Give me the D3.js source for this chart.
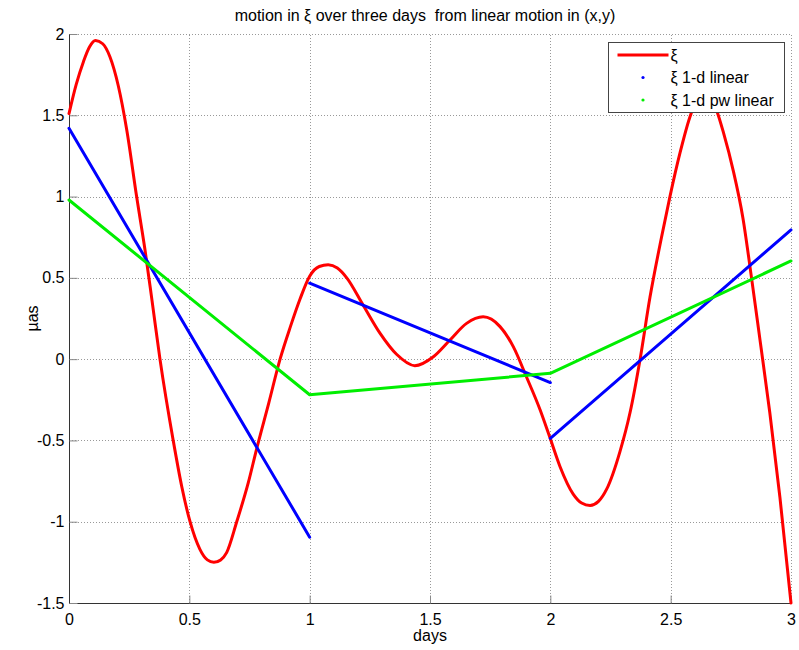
<!DOCTYPE html>
<html>
<head>
<meta charset="utf-8">
<script src="https://cdn.jsdelivr.net/npm/d3@7"></script>
<style>
  body { margin: 0; background: #fff; }
  svg { display: block; font-family: "Liberation Sans", Arial, sans-serif; }
</style>
</head>
<body>
<div id="chart"></div>
<script>
// red curve: xi(t)
const xiDays = [0, 0.03, 0.06, 0.085, 0.11, 0.14, 0.17, 0.205, 0.24, 0.281, 0.316, 0.345, 0.378, 0.433, 0.468, 0.503, 0.544, 0.575, 0.602, 0.63, 0.655, 0.697, 0.745, 0.78, 0.83, 0.877, 0.92, 0.96, 1.0, 1.04, 1.077, 1.115, 1.154, 1.223, 1.292, 1.361, 1.437, 1.514, 1.583, 1.652, 1.721, 1.791, 1.846, 1.901, 1.957, 2.0, 2.04, 2.095, 2.13, 2.165, 2.2, 2.234, 2.289, 2.331, 2.373, 2.414, 2.462, 2.497, 2.539, 2.58, 2.61, 2.64, 2.665, 2.691, 2.72, 2.76, 2.80, 2.836, 2.871, 2.912, 2.954, 3.0];
const xiValues = [1.51, 1.69, 1.83, 1.92, 1.96, 1.94, 1.86, 1.68, 1.41, 1.0, 0.67, 0.36, 0.0, -0.50, -0.78, -1.0, -1.17, -1.235, -1.25, -1.235, -1.19, -1.0, -0.76, -0.55, -0.27, 0.0, 0.2, 0.37, 0.51, 0.57, 0.58, 0.56, 0.5, 0.33, 0.16, 0.03, -0.04, 0.015, 0.118, 0.22, 0.26, 0.20, 0.077, -0.11, -0.31, -0.49, -0.66, -0.83, -0.885, -0.90, -0.875, -0.80, -0.57, -0.33, 0.0, 0.38, 0.75, 1.0, 1.27, 1.49, 1.6, 1.64, 1.61, 1.53, 1.39, 1.16, 0.87, 0.5, 0.12, -0.33, -0.85, -1.5];

// blue: one linear fit per day (segments [start, end])
const linearSegments = [
  [[0, 1.42], [1, -1.095]],
  [[1, 0.467], [2, -0.144]],
  [[2, -0.487], [3, 0.795]]
];

// green: piecewise linear
const pwDays = [0, 1, 2, 3];
const pwValues = [0.979, -0.219, -0.087, 0.604];

const xTicks = [0, 0.5, 1, 1.5, 2, 2.5, 3];
const yTicks = [-1.5, -1, -0.5, 0, 0.5, 1, 1.5, 2];

const legendLabels = ["\u03be", "\u03be 1-d linear", "\u03be 1-d pw linear"];
const colors = {xi: "#ff0000", lin: "#0000ff", pw: "#00ee00"};

const width = 799, height = 650;
const margin = {left: 69, right: 8, top: 34, bottom: 47};

const svg = d3.select("#chart").append("svg")
    .attr("width", width).attr("height", height);

const x = d3.scaleLinear().domain([0, 3]).range([margin.left, width - margin.right]);
const y = d3.scaleLinear().domain([-1.5, 2]).range([height - margin.bottom, margin.top]);

// grid
const grid = svg.append("g").attr("class", "grid")
    .attr("stroke", "#999").attr("stroke-dasharray", "1,2").attr("stroke-width", 1);
grid.selectAll(".gx").data(xTicks.slice(1)).join("line")
    .attr("x1", d => Math.round(x(d)) + 0.5).attr("x2", d => Math.round(x(d)) + 0.5)
    .attr("y1", y(-1.5)).attr("y2", y(2));
grid.selectAll(".gy").data(yTicks.slice(1)).join("line")
    .attr("y1", d => Math.round(y(d)) + 0.5).attr("y2", d => Math.round(y(d)) + 0.5)
    .attr("x1", x(0)).attr("x2", x(3));

// axes
const fmt = d => String(d);
const xAxis = svg.append("g")
    .attr("transform", `translate(0,${y(-1.5) + 0.5})`)
    .call(d3.axisBottom(x).tickValues(xTicks).tickSize(-8).tickPadding(10).tickFormat(fmt));
const yAxis = svg.append("g")
    .attr("transform", `translate(${x(0) + 0.5},0)`)
    .call(d3.axisLeft(y).tickValues(yTicks).tickSize(-8).tickPadding(5).tickFormat(fmt));

[xAxis, yAxis].forEach(a => {
  a.attr("font-size", 16).attr("font-family", "Liberation Sans, Arial, sans-serif");
  a.select(".domain").attr("stroke", "#333");
  a.selectAll(".tick line").attr("stroke", "#888");
  a.selectAll(".tick text").attr("fill", "#000");
});
xAxis.select(".domain").attr("d", `M${x(0)},0H${x(3)}`);
yAxis.select(".domain").attr("d", `M0,${y(-1.5)}V${y(2)}`);

// data lines
const plot = svg.append("g").attr("fill", "none").attr("stroke-width", 3)
    .attr("stroke-linejoin", "round").attr("stroke-linecap", "round");

const xiData = xiDays.map((d, i) => [d, xiValues[i]]);
const pwData = pwDays.map((d, i) => [d, pwValues[i]]);

const smooth = d3.line().x(d => x(d[0])).y(d => y(d[1])).curve(d3.curveMonotoneX);
const straight = d3.line().x(d => x(d[0])).y(d => y(d[1]));

plot.append("path").attr("d", smooth(xiData)).attr("stroke", colors.xi);
plot.selectAll(".lin").data(linearSegments).join("path")
    .attr("d", straight).attr("stroke", colors.lin);
plot.append("path").attr("d", straight(pwData)).attr("stroke", colors.pw);

// title and labels
svg.append("text").attr("x", x(1.5) - 5).attr("y", 21).attr("text-anchor", "middle")
    .attr("font-size", 16).text("motion in \u03be over three days  from linear motion in (x,y)")
    .style("white-space", "pre");
svg.append("text").attr("x", x(1.5)).attr("y", 641).attr("text-anchor", "middle")
    .attr("font-size", 16).text("days");
svg.append("text").attr("transform", `translate(38,${y(0.25)}) rotate(-90)`)
    .attr("text-anchor", "middle").attr("font-size", 16).text("\u00b5as");

// legend
const leg = svg.append("g").attr("transform", "translate(608.5,42.5)");
leg.append("rect").attr("width", 176).attr("height", 70)
    .attr("fill", "#fff").attr("stroke", "#444").attr("stroke-width", 1);
const rows = leg.selectAll(".row").data(legendLabels).join("g")
    .attr("transform", (d, i) => `translate(0,${12.5 + i * 22.5})`);
rows.filter((d, i) => i === 0).append("line")
    .attr("x1", 9).attr("x2", 60).attr("stroke", colors.xi).attr("stroke-width", 3);
rows.filter((d, i) => i > 0).append("circle")
    .attr("cx", 34.5).attr("r", 1.6)
    .attr("fill", (d, i) => i === 0 ? colors.lin : colors.pw);
rows.append("text").attr("x", 62).attr("dy", "0.35em").attr("font-size", 16).text(d => d);
</script>
</body>
</html>
